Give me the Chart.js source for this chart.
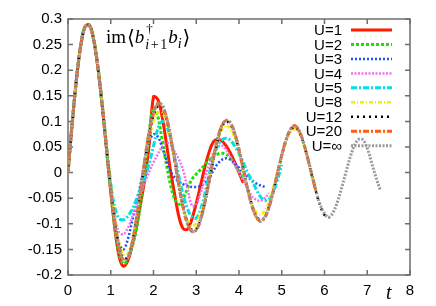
<!DOCTYPE html>
<html>
<head>
<meta charset="utf-8">
<script src="https://cdn.jsdelivr.net/npm/chart.js@4/dist/chart.umd.min.js"></script>
<style>
  html, body { margin: 0; padding: 0; background: #fff; }
</style>
</head>
<body>
<canvas id="chart" width="436" height="306"></canvas>
<script>
// time grid (t), shared by every curve; each curve stops where its simulation ends
const times = [
  0.0, 0.1, 0.2, 0.3, 0.4, 0.5, 0.6, 0.7, 0.8, 0.9,
  1.0, 1.1, 1.2, 1.3, 1.4, 1.5, 1.6, 1.7, 1.8, 1.9,
  2.0, 2.1, 2.2, 2.3, 2.4, 2.5, 2.6, 2.7, 2.8, 2.9,
  3.0, 3.1, 3.2, 3.3, 3.4, 3.5, 3.6, 3.7, 3.8, 3.9,
  4.0, 4.1, 4.2, 4.3, 4.4, 4.5, 4.6, 4.7, 4.8, 4.9,
  5.0, 5.1, 5.2, 5.3, 5.4, 5.5, 5.6, 5.7, 5.8, 5.9,
  6.0, 6.1, 6.2, 6.3, 6.4, 6.5, 6.6, 6.7, 6.8, 6.9,
  7.0, 7.1, 7.2, 7.3
];

const seriesNames = ['U=1', 'U=2', 'U=3', 'U=4', 'U=5', 'U=8', 'U=12', 'U=20', 'U=\u221e'];

const u1 = [
  0, 0.098, 0.184, 0.249, 0.285, 0.288, 0.26, 0.205, 0.131, 0.047,
  -0.037, -0.112, -0.165, -0.183, -0.172, -0.142, -0.105, -0.06, -0.01, 0.055,
  0.148, 0.143, 0.11, 0.058, 0.003, -0.045, -0.088, -0.11, -0.11, -0.09,
  -0.06, -0.025, 0.01, 0.04, 0.06, 0.065, 0.062, 0.052, 0.038, 0.02,
  0.0, -0.02
];
const u2 = [
  0, 0.098, 0.184, 0.249, 0.285, 0.288, 0.26, 0.205, 0.131, 0.047,
  -0.036, -0.11, -0.16, -0.178, -0.17, -0.145, -0.112, -0.06, 0.005, 0.08,
  0.127, 0.11, 0.065, 0.017, -0.025, -0.052, -0.062, -0.05, -0.03, -0.013,
  -0.003, 0.006, 0.015, 0.025, 0.032, 0.036, 0.038, 0.036, 0.028, 0.016,
  0.002, -0.013
];
const u3 = [
  0, 0.098, 0.184, 0.249, 0.285, 0.288, 0.26, 0.205, 0.131, 0.048,
  -0.035, -0.1, -0.14, -0.15, -0.13, -0.095, -0.06, -0.022, 0.022, 0.06,
  0.075, 0.07, 0.05, 0.025, 0.002, -0.01, -0.018, -0.023, -0.026, -0.028,
  -0.028, -0.026, -0.02, -0.01, 0.004, 0.017, 0.025, 0.028, 0.025, 0.018,
  0.01, 0.0, -0.008, -0.015, -0.021, -0.025, -0.028
];
const u4 = [
  0, 0.098, 0.184, 0.249, 0.285, 0.288, 0.26, 0.205, 0.132, 0.05,
  -0.03, -0.09, -0.117, -0.12, -0.108, -0.088, -0.064, -0.04, -0.018, 0.002,
  0.02, 0.036, 0.05, 0.058, 0.054, 0.04, 0.025, 0.003, -0.033, -0.065,
  -0.062, -0.04, -0.012, 0.015, 0.038, 0.05, 0.053, 0.045, 0.03, 0.016,
  0.0, -0.015, -0.03, -0.046, -0.053, -0.055, -0.05, -0.04
];
const u5 = [
  0, 0.098, 0.184, 0.249, 0.285, 0.287, 0.26, 0.207, 0.136, 0.055,
  -0.02, -0.07, -0.09, -0.092, -0.085, -0.072, -0.052, -0.03, -0.008, 0.018,
  0.052, 0.085, 0.1, 0.092, 0.066, 0.03, -0.01, -0.046, -0.072, -0.087,
  -0.089, -0.072, -0.042, -0.004, 0.03, 0.052, 0.064, 0.067, 0.063, 0.052,
  0.037, 0.02, 0.0, -0.015, -0.032, -0.047, -0.054, -0.052, -0.038, -0.014,
  0.015
];
const u8 = [
  0, 0.098, 0.184, 0.249, 0.285, 0.287, 0.262, 0.21, 0.14, 0.06,
  -0.02, -0.09, -0.138, -0.16, -0.158, -0.132, -0.088, -0.035, 0.02, 0.066,
  0.1, 0.117, 0.117, 0.098, 0.064, 0.02, -0.026, -0.066, -0.093, -0.104,
  -0.099, -0.08, -0.05, -0.013, 0.027, 0.061, 0.084, 0.092, 0.085, 0.066,
  0.036, 0.001, -0.032, -0.06, -0.077, -0.082, -0.075, -0.057, -0.029, 0.002,
  0.033, 0.06, 0.078, 0.085, 0.078, 0.058, 0.03, -0.002, -0.034
];
const u12 = [
  0, 0.098, 0.184, 0.249, 0.285, 0.288, 0.26, 0.205, 0.131, 0.05,
  -0.03, -0.097, -0.145, -0.168, -0.165, -0.137, -0.09, -0.034, 0.024, 0.076,
  0.112, 0.13, 0.128, 0.106, 0.068, 0.022, -0.027, -0.069, -0.098, -0.112,
  -0.11, -0.091, -0.059, -0.019, 0.025, 0.062, 0.09, 0.1, 0.094, 0.075,
  0.044, 0.007, -0.031, -0.063, -0.084, -0.093, -0.087, -0.067, -0.037, -0.002,
  0.033, 0.062, 0.082, 0.089, 0.081, 0.06, 0.03, -0.004, -0.037, -0.065,
  -0.083, -0.088
];
const u20 = [
  0, 0.098, 0.184, 0.249, 0.285, 0.288, 0.26, 0.205, 0.131, 0.048,
  -0.033, -0.101, -0.149, -0.172, -0.167, -0.138, -0.091, -0.033, 0.027, 0.08,
  0.117, 0.135, 0.132, 0.109, 0.07, 0.022, -0.028, -0.071, -0.101, -0.115,
  -0.112, -0.092, -0.059, -0.016, 0.028, 0.066, 0.092, 0.102, 0.097, 0.077,
  0.045, 0.007, -0.032, -0.064, -0.086, -0.095, -0.088, -0.068, -0.037, -0.001,
  0.034, 0.064, 0.084, 0.092, 0.083, 0.061, 0.031, -0.003, -0.036
];
const uInf = [
  0, 0.098, 0.184, 0.249, 0.285, 0.288, 0.26, 0.205, 0.131, 0.048,
  -0.033, -0.101, -0.149, -0.172, -0.167, -0.138, -0.091, -0.033, 0.027, 0.08,
  0.117, 0.135, 0.132, 0.109, 0.07, 0.022, -0.028, -0.071, -0.101, -0.115,
  -0.112, -0.092, -0.059, -0.016, 0.028, 0.066, 0.092, 0.102, 0.097, 0.077,
  0.045, 0.007, -0.032, -0.064, -0.086, -0.095, -0.088, -0.068, -0.037, -0.001,
  0.034, 0.064, 0.084, 0.091, 0.082, 0.061, 0.031, -0.003, -0.036, -0.063,
  -0.08, -0.087, -0.078, -0.058, -0.03, 0.0, 0.03, 0.053, 0.065, 0.064,
  0.048, 0.02, -0.008, -0.033
];

const seriesValues = [u1, u2, u3, u4, u5, u8, u12, u20, uInf];

// gnuplot-like line styles
const lineColors = ['#ff1a00', '#1ee000', '#2050f0', '#f070f0', '#00e0e8', '#f0f000', '#000000', '#ff5a10', '#9a9a9a'];
const lineDashes = [[], [3, 2], [2, 2], [2, 1.5], [6, 2, 2, 2], [4, 2, 1, 2], [2, 4], [6, 2, 2, 2], [2, 1.5]];
const lineWidths = [3, 3, 2.5, 2.5, 3, 2.5, 2.5, 3, 3];

const datasets = seriesValues.map((vals, i) => ({
  label: seriesNames[i],
  data: vals.map((v, k) => ({x: times[k], y: v})),
  borderColor: lineColors[i],
  borderDash: lineDashes[i],
  borderWidth: lineWidths[i],
  pointRadius: 0,
  tension: 0.35,
  fill: false,
  order: seriesValues.length - i   // later curves on top, like gnuplot
}));

const frameColor = '#6e6e6e';

const framePlugin = {
  id: 'frame',
  beforeDatasetsDraw(chart) {
    const {ctx, chartArea: a, scales: {x, y}} = chart;
    ctx.save();
    ctx.strokeStyle = frameColor;
    ctx.lineWidth = 1.5;
    ctx.beginPath();
    x.ticks.forEach(t => {
      const px = x.getPixelForValue(t.value);
      ctx.moveTo(px, a.bottom); ctx.lineTo(px, a.bottom - 5);
      ctx.moveTo(px, a.top); ctx.lineTo(px, a.top + 5);
    });
    y.ticks.forEach(t => {
      const py = y.getPixelForValue(t.value);
      ctx.moveTo(a.left, py); ctx.lineTo(a.left + 5, py);
      ctx.moveTo(a.right, py); ctx.lineTo(a.right - 5, py);
    });
    ctx.stroke();
    ctx.strokeRect(a.left, a.top, a.right - a.left, a.bottom - a.top);
    ctx.restore();
  }
};

const textPlugin = {
  id: 'texts',
  afterDraw(chart) {
    const ctx = chart.ctx;
    ctx.save();
    ctx.fillStyle = '#000';
    ctx.textAlign = 'left';
    ctx.textBaseline = 'alphabetic';

    // im<b^dagger_{i+1} b_i>
    let cx = 106;
    const base = 43;
    const put = (txt, font, dy) => {
      ctx.font = font;
      ctx.fillText(txt, cx, base + dy);
      cx += ctx.measureText(txt).width;
    };
    put('im', '19px "Liberation Serif"', 0);
    cx += 1;
    put('\u27e8', '20px "DejaVu Serif"', 1);
    put('b', 'italic 19px "Liberation Serif"', 0);
    const subStart = cx + 1;
    cx = subStart + 1;
    put('\u2020', '13px "Liberation Serif"', -10);
    cx = subStart;
    put('i', 'italic 14px "Liberation Serif"', 6);
    cx += 1.5;
    put('+', '14px "Liberation Serif"', 6);
    cx += 1.5;
    put('1', '14px "Liberation Serif"', 6);
    cx += 1;
    put('b', 'italic 19px "Liberation Serif"', 0);
    put('i', 'italic 14px "Liberation Serif"', 5);
    cx += 1;
    put('\u27e9', '20px "DejaVu Serif"', 1);

    // axis label t
    ctx.font = 'italic 20px "Liberation Serif"';
    ctx.fillText('t', 386, 299);

    // legend, gnuplot style: text right, sample on the right
    chart.data.datasets.forEach((ds, i) => {
      const yy = 30 + i * 14.46;
      ctx.font = '15px "Liberation Sans"';
      ctx.textAlign = 'right';
      ctx.textBaseline = 'middle';
      ctx.fillStyle = '#000';
      ctx.fillText(ds.label, 342, yy + 1);
      ctx.strokeStyle = ds.borderColor;
      ctx.lineWidth = ds.borderWidth;
      ctx.setLineDash(ds.borderDash);
      ctx.beginPath();
      ctx.moveTo(351, yy);
      ctx.lineTo(392, yy);
      ctx.stroke();
    });
    ctx.restore();
  }
};

const tickFont = {family: '"Liberation Sans", Arial, sans-serif', size: 15};

new Chart(document.getElementById('chart'), {
  type: 'line',
  data: {datasets},
  options: {
    responsive: false,
    animation: false,
    events: [],
    layout: {padding: {left: 0, right: 26, top: 19, bottom: 0}},
    plugins: {legend: {display: false}, tooltip: {enabled: false}},
    scales: {
      x: {
        type: 'linear',
        min: 0, max: 8,
        grid: {display: false, drawTicks: false},
        border: {display: false},
        ticks: {stepSize: 1, font: tickFont, color: '#000', padding: 7, maxRotation: 0},
        afterFit: s => { s.height = 31; }
      },
      y: {
        min: -0.2, max: 0.3,
        grid: {display: false, drawTicks: false},
        border: {display: false},
        ticks: {
          stepSize: 0.05, font: tickFont, color: '#000', padding: 6,
          callback: v => String(Number(v.toFixed(2)))
        },
        afterFit: s => { s.width = 68; }
      }
    }
  },
  plugins: [framePlugin, textPlugin]
});
</script>
</body>
</html>
